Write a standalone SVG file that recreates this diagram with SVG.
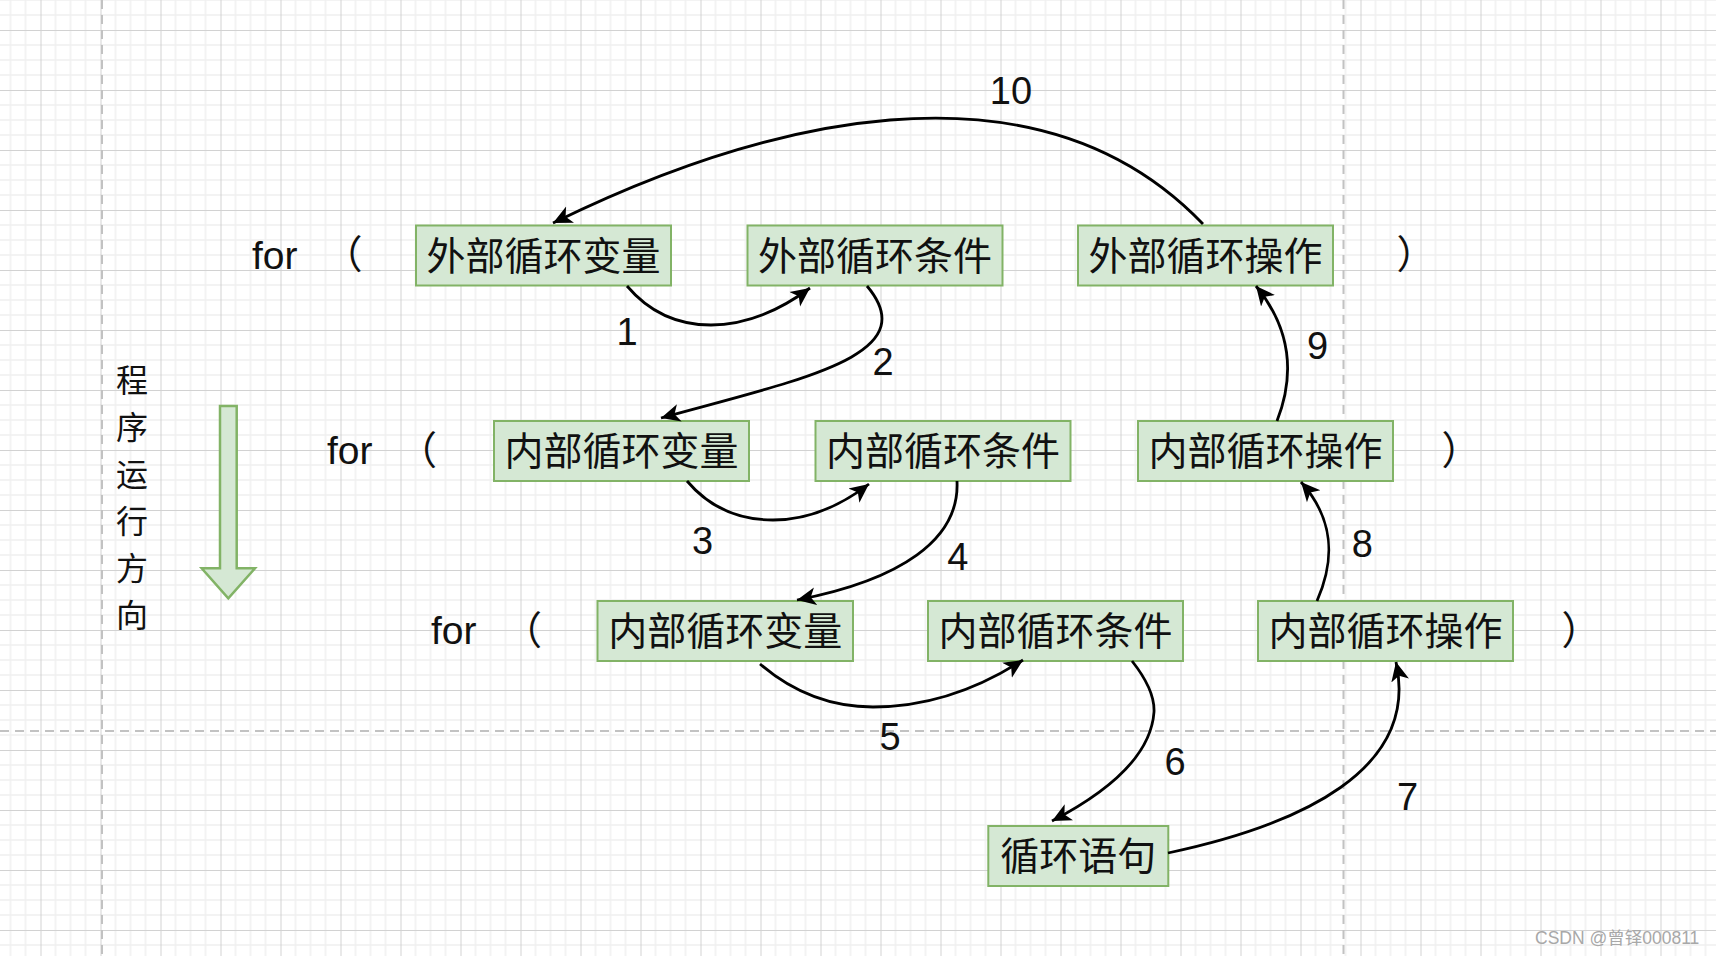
<svg xmlns="http://www.w3.org/2000/svg" width="1716" height="956" viewBox="0 0 1716 956">
<style>
.box{fill:#d5e8d4;stroke:#82b366;stroke-width:2}
.bt{font-family:"Noto Sans CJK SC","Liberation Sans",sans-serif;font-size:39px;fill:#111;text-anchor:middle;dominant-baseline:central}
.kw{font-family:"Liberation Sans",Arial,sans-serif;font-size:39px;fill:#111}
.par{font-family:"Noto Sans CJK SC","Liberation Sans",sans-serif;font-size:39px;fill:#111;text-anchor:middle}
.num{font-family:"Liberation Sans",Arial,sans-serif;font-size:38px;fill:#111;text-anchor:middle}
.vt{font-family:"Noto Sans CJK SC",sans-serif;font-size:32px;fill:#111;text-anchor:middle;dominant-baseline:central}
.edge{fill:none;stroke:#000;stroke-width:2.8;marker-end:url(#arr)}
.dash{stroke:#c2c2c2;stroke-width:2;stroke-dasharray:9 6;fill:none}
</style>
<defs>
<pattern id="grid" patternUnits="userSpaceOnUse" x="40.5" y="30" width="60" height="60">
<path d="M15,0V60M30,0V60M45,0V60M0,15H60M0,30H60M0,45H60" stroke="#efefef" stroke-width="1.5" fill="none"/>
<path d="M0.5,0V60M0,0.5H60" stroke="#d2d2d2" stroke-width="1" fill="none"/>
</pattern>
<marker id="arr" markerUnits="userSpaceOnUse" markerWidth="22" markerHeight="20" viewBox="0 0 22 20" refX="19" refY="10" orient="auto">
<path d="M0,1 L19,10 L0,19 L5,10 z" fill="#000"/>
</marker>
</defs>
<rect width="1716" height="956" fill="#fff"/>
<rect width="1716" height="956" fill="url(#grid)"/>
<g id="guides">
<path class="dash" d="M102,0V956"/>
<path class="dash" d="M1343.5,0V956"/>
<path class="dash" d="M0,731H1716"/>
</g>
<g id="direction">
<text class="vt" x="132" y="378">程</text>
<text class="vt" x="132" y="425">序</text>
<text class="vt" x="132" y="472">运</text>
<text class="vt" x="132" y="519">行</text>
<text class="vt" x="132" y="566">方</text>
<text class="vt" x="132" y="613">向</text>
<polygon points="220,406 236.7,406 236.7,568.3 255,568.3 228.3,598.3 201.7,568.3 220,568.3" fill="#d5e8d4" stroke="#82b366" stroke-width="2.5"/>
</g>
<g id="syntax">
<text class="kw" x="252" y="268.5">for</text>
<text class="par" x="343" y="268">（</text>
<text class="par" x="1416" y="268">）</text>
<text class="kw" x="327" y="464">for</text>
<text class="par" x="417.5" y="463.5">（</text>
<text class="par" x="1461" y="463.5">）</text>
<text class="kw" x="431" y="644">for</text>
<text class="par" x="522.5" y="643.5">（</text>
<text class="par" x="1581" y="643.5">）</text>
</g>
<g id="outer-init"><rect class="box" x="416" y="225.5" width="255" height="60"/><text class="bt" x="543.5" y="252.5">外部循环变量</text></g>
<g id="outer-cond"><rect class="box" x="747.5" y="225.5" width="255" height="60"/><text class="bt" x="875" y="252.5">外部循环条件</text></g>
<g id="outer-op"><rect class="box" x="1078" y="225.5" width="255" height="60"/><text class="bt" x="1205.5" y="252.5">外部循环操作</text></g>
<g id="inner1-init"><rect class="box" x="494" y="421" width="255" height="60"/><text class="bt" x="621.5" y="448">内部循环变量</text></g>
<g id="inner1-cond"><rect class="box" x="815.5" y="421" width="255" height="60"/><text class="bt" x="943" y="448">内部循环条件</text></g>
<g id="inner1-op"><rect class="box" x="1138" y="421" width="255" height="60"/><text class="bt" x="1265.5" y="448">内部循环操作</text></g>
<g id="inner2-init"><rect class="box" x="597.5" y="601" width="255.5" height="60"/><text class="bt" x="725.3" y="628">内部循环变量</text></g>
<g id="inner2-cond"><rect class="box" x="928" y="601" width="255" height="60"/><text class="bt" x="1055.5" y="628">内部循环条件</text></g>
<g id="inner2-op"><rect class="box" x="1258" y="601" width="255" height="60"/><text class="bt" x="1385.5" y="628">内部循环操作</text></g>
<g id="body"><rect class="box" x="988.3" y="826" width="180" height="60"/><text class="bt" x="1078.3" y="853">循环语句</text></g>
<g id="connectors">
<path class="edge" d="M627,286 Q660,325 711,325 Q760,325 810,288"/>
<path class="edge" d="M867,286 C925,355 806,378 661,418"/>
<path class="edge" d="M687,481 Q720,520 773,520 Q822,520 869,484"/>
<path class="edge" d="M957,481 C960,540 900,580 797,600"/>
<path class="edge" d="M760,664 Q810,707 873,707 Q950,707 1023,660"/>
<path class="edge" d="M1132,661 Q1155,690 1154,712 Q1150,770 1052,821"/>
<path class="edge" d="M1168,853 C1300,825 1420,770 1396,662"/>
<path class="edge" d="M1317,601 C1335,560 1335,520 1301,482"/>
<path class="edge" d="M1277,421 C1295,375 1292,330 1256,286"/>
<path class="edge" d="M1203,224 C1033,47 755,124 553,223"/>
</g>
<g id="edge-labels">
<text class="num" x="627" y="344.6">1</text>
<text class="num" x="883" y="374.6">2</text>
<text class="num" x="702.5" y="554.3">3</text>
<text class="num" x="957.7" y="569.6">4</text>
<text class="num" x="890" y="749.6">5</text>
<text class="num" x="1175" y="775.1">6</text>
<text class="num" x="1407.5" y="809.6">7</text>
<text class="num" x="1362.3" y="556.6">8</text>
<text class="num" x="1317.5" y="359.3">9</text>
<text class="num" x="1011" y="104.1">10</text>
</g>
<text x="1535" y="944" font-family="Liberation Sans,'Noto Sans CJK SC',sans-serif" font-size="17.5" fill="#a8a8a8">CSDN @曾铎000811</text>
</svg>
